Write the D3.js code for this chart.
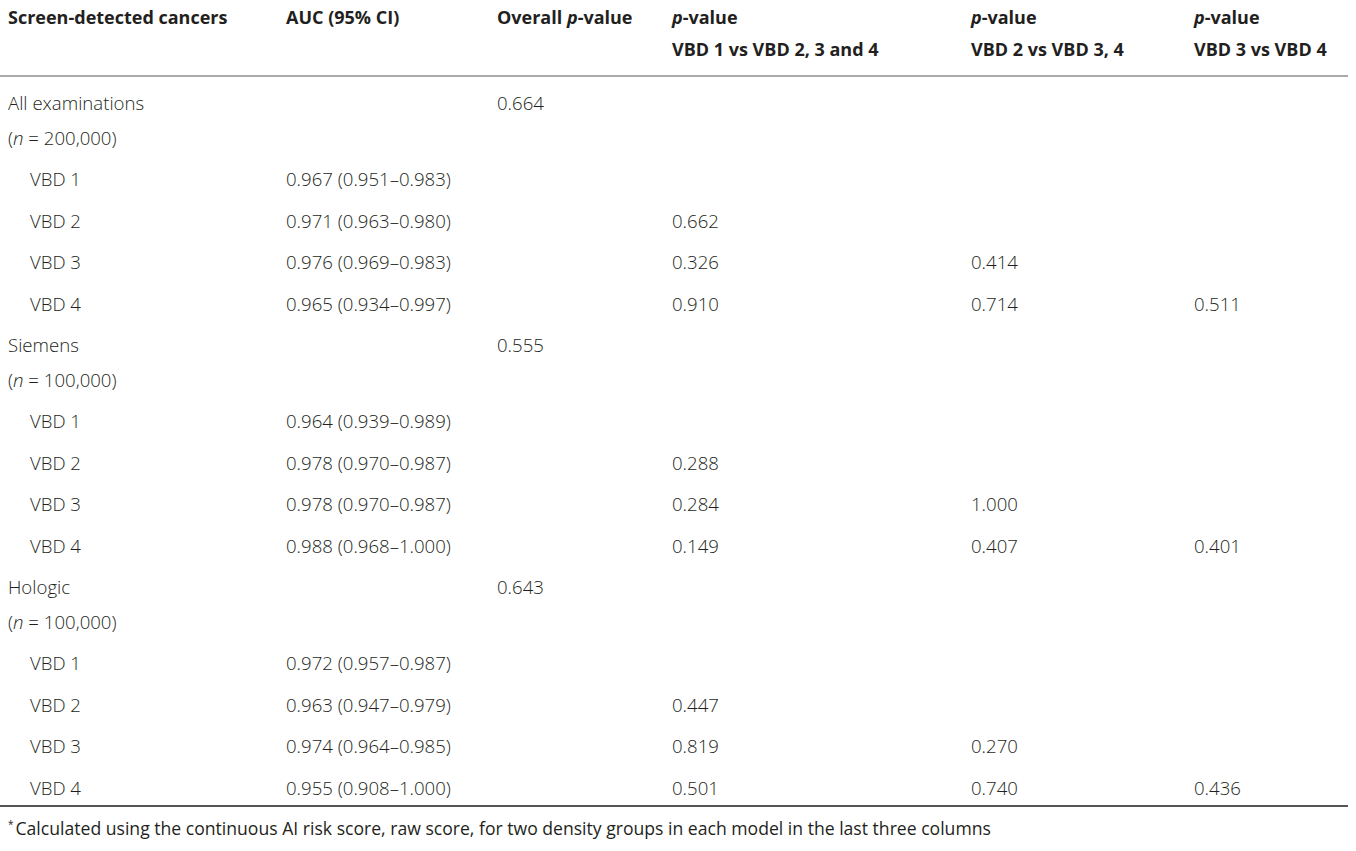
<!DOCTYPE html>
<html><head><meta charset="utf-8">
<script src="https://cdn.jsdelivr.net/npm/d3@7/dist/d3.min.js"></script>
<style>body{margin:0;background:#fff}text{font-family:"Open Sans",sans-serif;fill:#231f20}</style>
</head><body>
<svg id="c" width="1356" height="851"></svg>
<script>
const headers = [["Screen-detected cancers",""],["AUC (95% CI)",""],["Overall |p|-value",""],["|p|-value","VBD 1 vs VBD 2, 3 and 4"],["|p|-value","VBD 2 vs VBD 3, 4"],["|p|-value","VBD 3 vs VBD 4"]];
const groups = ["All examinations","Siemens","Hologic"];
const groupN = ["200,000","100,000","100,000"];
const overallP = ["0.664","0.555","0.643"];
const vbd = ["VBD 1","VBD 2","VBD 3","VBD 4"];
const auc = [
 ["0.967 (0.951–0.983)","0.971 (0.963–0.980)","0.976 (0.969–0.983)","0.965 (0.934–0.997)"],
 ["0.964 (0.939–0.989)","0.978 (0.970–0.987)","0.978 (0.970–0.987)","0.988 (0.968–1.000)"],
 ["0.972 (0.957–0.987)","0.963 (0.947–0.979)","0.974 (0.964–0.985)","0.955 (0.908–1.000)"]];
const p1 = [["","0.662","0.326","0.910"],["","0.288","0.284","0.149"],["","0.447","0.819","0.501"]];
const p2 = [["","","0.414","0.714"],["","","1.000","0.407"],["","","0.270","0.740"]];
const p3 = [["","","","0.511"],["","","","0.401"],["","","","0.436"]];
const footnote = "Calculated using the continuous AI risk score, raw score, for two density groups in each model in the last three columns";

const svg = d3.select("#c");
const colX = d3.scaleOrdinal().domain(d3.range(6)).range([8,286,497,672,971,1194]);
const fs = 18.6;

function rich(sel, str){
  const parts = str.split("|");
  parts.forEach((p,i)=>{ if(!p) return; sel.append("tspan").text(p)
    .attr("font-style", i%2 ? "italic" : null); });
}
headers.forEach((h,i)=>{
  h.forEach((line,j)=>{ if(!line) return;
    const t = svg.append("text").attr("x",colX(i)).attr("y",24+j*32).attr("font-size",18).attr("font-weight",700);
    rich(t,line);
  });
});
svg.append("line").attr("x1",0).attr("x2",1348).attr("y1",76).attr("y2",76).attr("stroke","#555").attr("stroke-width",1);

const lines=[]; let y=110;
groups.forEach((g,gi)=>{
  lines.push({y, cells:[[0,g,0],[2,overallP[gi],0]]}); y+=35;
  lines.push({y, cells:[[0,"(|n| = "+groupN[gi]+")",0]]}); y+=41;
  vbd.forEach((v,vi)=>{
    lines.push({y, cells:[[0,v,22],[1,auc[gi][vi],0],[3,p1[gi][vi],0],[4,p2[gi][vi],0],[5,p3[gi][vi],0]]});
    y+=41.5;
  });
});
lines.forEach(l=>l.cells.forEach(([c,s,ind])=>{ if(!s) return;
  const t=svg.append("text").attr("x",colX(c)+ind).attr("y",l.y).attr("font-size",fs).attr("font-weight",300);
  rich(t,s);
}));
svg.append("line").attr("x1",0).attr("x2",1348).attr("y1",806).attr("y2",806).attr("stroke","#555").attr("stroke-width",2);
const f=svg.append("text").attr("x",8).attr("y",835).attr("font-size",17.6).attr("font-weight",400);
f.append("tspan").text("*").attr("font-size",10).attr("dy",-7);
f.append("tspan").text(footnote).attr("dy",7).attr("dx",2);
</script></body></html>
